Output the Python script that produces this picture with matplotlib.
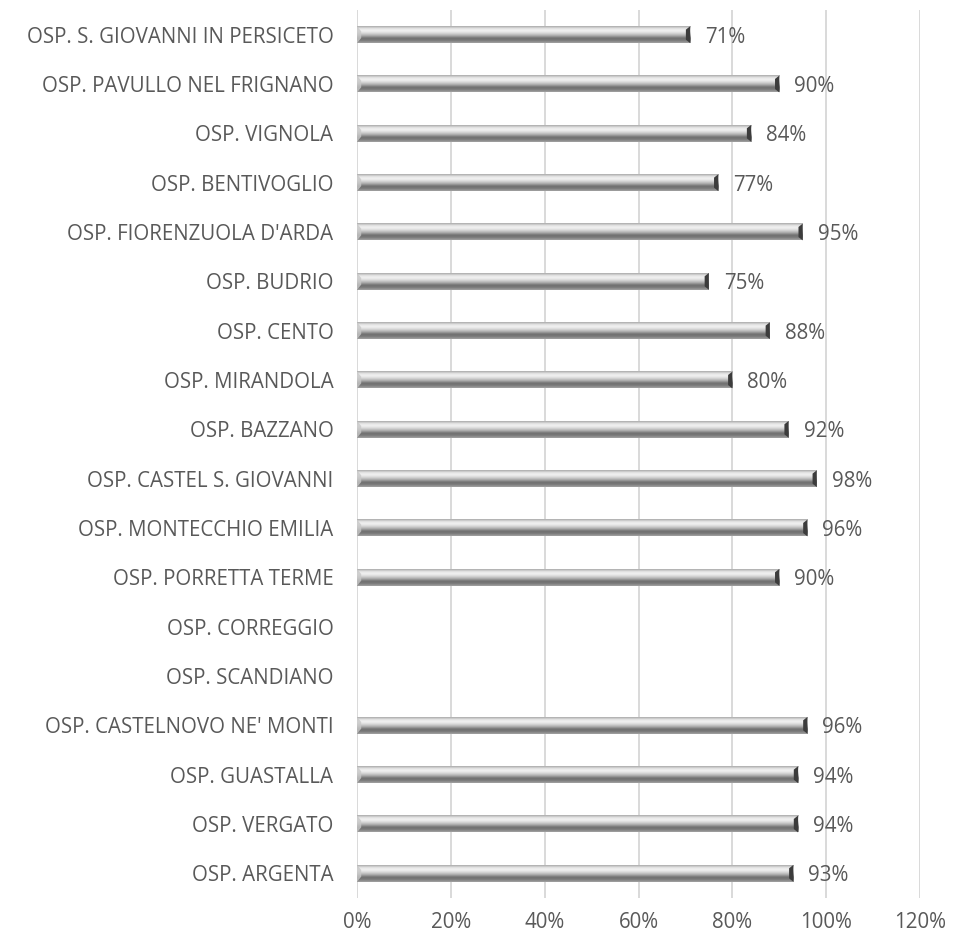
import numpy as np
import matplotlib
matplotlib.use("Agg")
import matplotlib.pyplot as plt
from matplotlib.colors import LinearSegmentedColormap
from matplotlib.patches import Polygon

categories = [
    "OSP. S. GIOVANNI IN PERSICETO",
    "OSP. PAVULLO NEL FRIGNANO",
    "OSP. VIGNOLA",
    "OSP. BENTIVOGLIO",
    "OSP. FIORENZUOLA D'ARDA",
    "OSP. BUDRIO",
    "OSP. CENTO",
    "OSP. MIRANDOLA",
    "OSP. BAZZANO",
    "OSP. CASTEL S. GIOVANNI",
    "OSP. MONTECCHIO EMILIA",
    "OSP. PORRETTA TERME",
    "OSP. CORREGGIO",
    "OSP. SCANDIANO",
    "OSP. CASTELNOVO NE' MONTI",
    "OSP. GUASTALLA",
    "OSP. VERGATO",
    "OSP. ARGENTA",
]
values = [0.71, 0.90, 0.84, 0.77, 0.95, 0.75, 0.88, 0.80, 0.92, 0.98, 0.96, 0.90,
          None, None, 0.96, 0.94, 0.94, 0.93]
xticks = [0, 0.2, 0.4, 0.6, 0.8, 1.0, 1.2]
xticklabels = ["0%", "20%", "40%", "60%", "80%", "100%", "120%"]

FONT = "Open Sans"
TXT = "#595959"
FS = 14.8

fig = plt.figure(figsize=(9.71, 9.41), dpi=100)
ax = fig.add_axes([357/971, 1-898/941, 563/971, 888/941])

n = len(categories)
ypos = np.arange(n)[::-1]
h = 0.34

# vertical gradient: top -> bottom
grad_cols = ["#a8a8a8", "#e6e6e6", "#f2f2f2", "#d4d4d4", "#ababab", "#6e6e6e", "#7a7a7a", "#a4a4a4"]
cmap = LinearSegmentedColormap.from_list("bev", grad_cols)
grad = np.linspace(0, 1, 64).reshape(-1, 1)

for y, v in zip(ypos, values):
    if v is None:
        continue
    ax.imshow(grad, cmap=cmap, aspect="auto", interpolation="bicubic",
              extent=(0, v, y - h/2, y + h/2), origin="upper", zorder=3)
    cap = 0.009
    ax.add_patch(Polygon([[v - cap, y + h/2*0.6], [v, y + h/2], [v, y - h/2], [v - cap, y - h/2*0.6]],
                         closed=True, facecolor="#3c3c3c", edgecolor="none", zorder=4))
    ax.add_patch(Polygon([[0, y + h/2], [cap, y + h/2*0.4], [cap, y - h/2*0.4], [0, y - h/2]],
                         closed=True, facecolor="#c8c8c8", edgecolor="none", zorder=4, alpha=0.8))
    ax.text(v + 0.032, y - 0.05, f"{round(v*100):d}%", va="center", ha="left",
            fontsize=FS, color=TXT, family=FONT, zorder=5)

ax.set_xlim(0, 1.2)
ax.set_ylim(-0.5, n - 0.5)
ax.set_xticks(xticks)
ax.set_xticklabels(xticklabels)
ax.set_yticks(ypos)
ax.set_yticklabels(categories)
for lab in ax.get_xticklabels() + ax.get_yticklabels():
    lab.set_family(FONT)
    lab.set_fontsize(FS)
    lab.set_color(TXT)
ax.tick_params(axis="both", length=0)
ax.tick_params(axis="y", pad=17)
ax.tick_params(axis="x", pad=10)
ax.grid(axis="x", color="#d9d9d9", linewidth=1.4, zorder=0)
ax.set_axisbelow(True)
for s in ax.spines.values():
    s.set_visible(False)

fig.savefig("out.png", dpi=100)
